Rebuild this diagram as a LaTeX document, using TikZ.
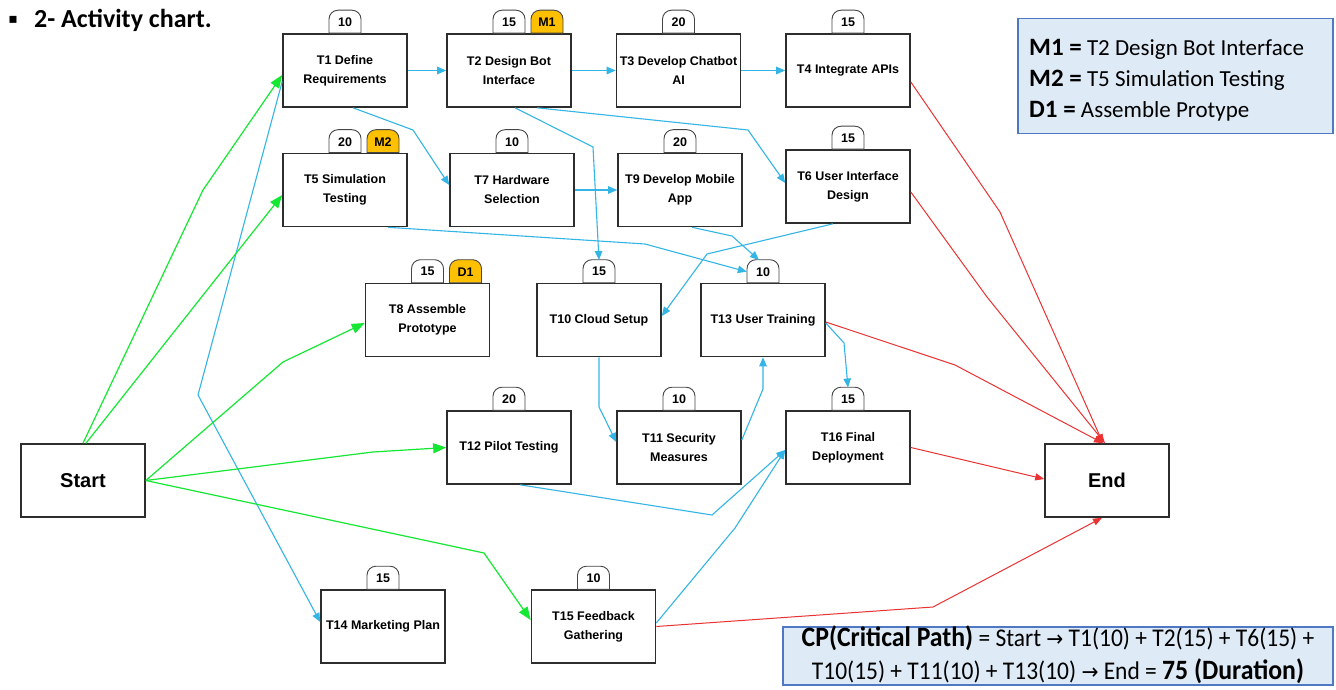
\documentclass[tikz,border=0pt]{standalone}
\usepackage{fontspec}
\usepackage{graphicx}
\setmainfont{Carlito}
\newfontfamily\arialf{Liberation Sans}
\newfontfamily\dejavu{DejaVu Sans}
\usetikzlibrary{arrows.meta}
\definecolor{boxc}{RGB}{45,45,45}
\definecolor{tabc}{RGB}{70,70,70}
\definecolor{bluec}{RGB}{51,181,229}
\definecolor{greenc}{RGB}{20,232,50}
\definecolor{redc}{RGB}{235,50,50}
\definecolor{yelc}{RGB}{255,192,0}
\definecolor{legfill}{RGB}{222,235,247}
\definecolor{legdraw}{RGB}{79,120,196}
\tikzset{
  task/.style={draw=boxc, line width=1.6pt, fill=white, minimum width=124pt, minimum height=73pt,
    inner sep=1pt, align=center, font=\arialf\bfseries\fontsize{12.5}{19}\selectfont},
  termbox/.style={task, font=\arialf\bfseries\fontsize{20}{22}\selectfont},
  tabline/.style={draw=tabc, line width=0.9pt},
  tabtxt/.style={inner sep=0pt, minimum width=32pt, minimum height=23pt, font=\arialf\bfseries\fontsize{12.5}{14}\selectfont},
  bl/.style={draw=bluec, line width=1.1pt, -{Triangle[length=9pt,width=7.5pt]}},
  gr/.style={draw=greenc, line width=1.2pt, -{Triangle[length=13pt,width=10pt]}},
  rd/.style={draw=redc, line width=1pt, -{Triangle[length=9pt,width=7pt]}},
  legbox/.style={fill=legfill, draw=legdraw, line width=1.2pt},
  legtxt/.style={anchor=west, inner sep=0pt, font=\fontsize{23}{26}\selectfont}
}
% #1 tab node name, #2 box name, #3 x offset of tab centre, #4 fill, #5 text
\newcommand\mktab[5]{%
  \filldraw[tabline, fill=#4] ([xshift=#3-16pt]#2.north) [rounded corners=9pt] -- ++(0,-23) -- ++(32,0) [sharp corners] -- ++(0,23) -- cycle;
  \node[tabtxt] (#1) at ([xshift=#3, yshift=11pt]#2.north) {#5};}
\newcommand\rarr{{\dejavu\fontsize{22}{26}\selectfont →}}
\begin{document}
\begin{tikzpicture}[x=1pt,y=-1pt]
\useasboundingbox (0,0) rectangle (1336,690);
\fill[white] (0,0) rectangle (1336,690);

% title
\node (bul) at (13,20) {\dejavu\fontsize{14}{14}\selectfont ▪};
\node[anchor=west, inner sep=0pt, font=\fontsize{26}{30}\selectfont\bfseries] (title) at (34,20) {2- Activity chart.};

% boxes
\node[task] (T1) at (345,70.5) {T1 Define\\Requirements};
\node[task] (T2) at (509,70.5) {T2 Design Bot\\Interface};
\node[task] (T3) at (678.5,70.5) {T3 Develop Chatbot\\AI};
\node[task] (T4) at (848,70.5) {T4 Integrate APIs};
\node[task] (T5) at (345,190) {T5 Simulation\\Testing};
\node[task] (T7) at (512,190) {T7 Hardware\\Selection};
\node[task] (T9) at (680,190) {T9 Develop Mobile\\App};
\node[task] (T6) at (848,186.5) {T6 User Interface\\Design};
\node[task] (T8) at (427.5,320) {T8 Assemble\\Prototype};
\node[task] (T10) at (599,320) {T10 Cloud Setup};
\node[task] (T13) at (763,320) {T13 User Training};
\node[task] (T12) at (509,447.5) {T12 Pilot Testing};
\node[task] (T11) at (679,447.5) {T11 Security\\Measures};
\node[task] (T16) at (848,447.5) {T16 Final\\Deployment};
\node[task] (T14) at (383,626.5) {T14 Marketing Plan};
\node[task] (T15) at (593.5,626.5) {T15 Feedback\\Gathering};
\node[termbox] (Start) at (83,480.5) {Start};
\node[termbox] (End) at (1107,480.5) {End};

% tabs
\mktab{k1}{T1}{0pt}{white}{10}
\mktab{k2}{T2}{0pt}{white}{15}
\mktab{m1}{T2}{38pt}{yelc}{M1}
\mktab{k3}{T3}{0pt}{white}{20}
\mktab{k4}{T4}{0pt}{white}{15}
\mktab{k5}{T5}{0pt}{white}{20}
\mktab{m2}{T5}{38pt}{yelc}{M2}
\mktab{k7}{T7}{0pt}{white}{10}
\mktab{k9}{T9}{0pt}{white}{20}
\mktab{k6}{T6}{0pt}{white}{15}
\mktab{k8}{T8}{0pt}{white}{15}
\mktab{d1}{T8}{38pt}{yelc}{D1}
\mktab{k10}{T10}{0pt}{white}{15}
\mktab{k13}{T13}{0pt}{white}{10}
\mktab{k12}{T12}{0pt}{white}{20}
\mktab{k11}{T11}{0pt}{white}{10}
\mktab{k16}{T16}{0pt}{white}{15}
\mktab{k14}{T14}{0pt}{white}{15}
\mktab{k15}{T15}{0pt}{white}{10}

% blue connectors
\draw[bl] (T1.east) -- (T2.west);
\draw[bl] (T2.east) -- (T3.west);
\draw[bl] (T3.east) -- (T4.west);
\draw[bl] ([xshift=8pt]T1.south) -- (413,130) -- ([yshift=5pt]T7.west);
\draw[bl] (T7.east) -- (T9.west);
\draw[bl] ([xshift=6pt]T2.south) -- (593,147) -- (k10.north);
\draw[bl] ([xshift=28pt]T2.south) -- (748,130) -- ([yshift=3.5pt]T6.west);
\draw[bl] ([xshift=43pt]T5.south) -- (645,244) -- (k13.west);
\draw[bl] ([xshift=12pt]T9.south) -- (732,236) -- ([xshift=-4pt]k13.north);
\draw[bl] ([xshift=-15pt]T6.south) -- (707,254) -- ([yshift=4pt]T10.east);
\draw[bl] (T10.south) -- (599,407) -- ([yshift=5.5pt]T11.west);
\draw[bl] ([yshift=7.5pt]T11.east) -- (763,389) -- (T13.south);
\draw[bl] ([yshift=-3pt]T13.east) -- (844,343) -- (k16.north);
\draw[bl] ([xshift=11pt]T12.south) -- (712,515) -- ([yshift=-2.5pt]T16.west);
\draw[bl] ([yshift=3.5pt]T15.east) -- (735,528) -- ([yshift=-2.5pt]T16.west);
\draw[bl] ([yshift=-11pt]T1.west) -- (198,395) -- ([yshift=4.5pt]T14.west);

% green connectors
\draw[gr] (Start.north) -- (203,190) -- ([yshift=-4.5pt]T1.west);
\draw[gr] ([xshift=3pt]Start.north) -- ([yshift=-5pt]T5.west);
\draw[gr] (Start.east) -- (283,362) -- ([yshift=-3pt]T8.west);
\draw[gr] (Start.east) -- (373,452) -- (T12.west);
\draw[gr] (Start.east) -- (484,553) -- ([yshift=6.5pt]T15.west);

% red connectors
\draw[rd] ([yshift=-11.5pt]T4.east) -- (1000,212) -- ([xshift=-4pt]End.north);
\draw[rd] ([yshift=-5.5pt]T6.east) -- (987,297) -- ([xshift=-2pt]End.north);
\draw[rd] ([yshift=-2pt]T13.east) -- (955,365) -- ([xshift=-4pt]End.north);
\draw[rd] (T16.east) -- ([yshift=1.5pt]End.west);
\draw[rd] (T15.east) -- (933,607) -- ([xshift=-5pt]End.south);

% legend
\node[legbox, minimum width=315pt, minimum height=115pt, inner sep=0pt] (leg) at (1175.5,76) {};
\node[legtxt] (L1) at (1029,49) {{\fontsize{25}{26}\selectfont\bfseries M1 =} T2 Design Bot Interface};
\node[legtxt] (L2) at (1029,80) {{\fontsize{25}{26}\selectfont\bfseries M2 =} T5 Simulation Testing};
\node[legtxt] (L3) at (1029,111) {{\fontsize{25}{26}\selectfont\bfseries D1 =} Assemble Protype};

% critical path box
\node[legbox, minimum width=550pt, minimum height=58pt, inner sep=0pt] (cpbox) at (1058,656) {};
\node[inner sep=0pt, font=\fontsize{25.5}{33}\selectfont] (cp) at (1058,656)
  {\scalebox{0.92}[1]{\begin{tabular}{@{}c@{}}
   {\fontsize{28}{33}\selectfont\bfseries CP(Critical Path)} = Start \rarr\ T1(10) + T2(15) + T6(15) +\\
   T10(15) + T11(10) + T13(10) \rarr\ End = {\fontsize{28}{33}\selectfont\bfseries 75 (Duration)}
   \end{tabular}}};
\end{tikzpicture}
\end{document}
